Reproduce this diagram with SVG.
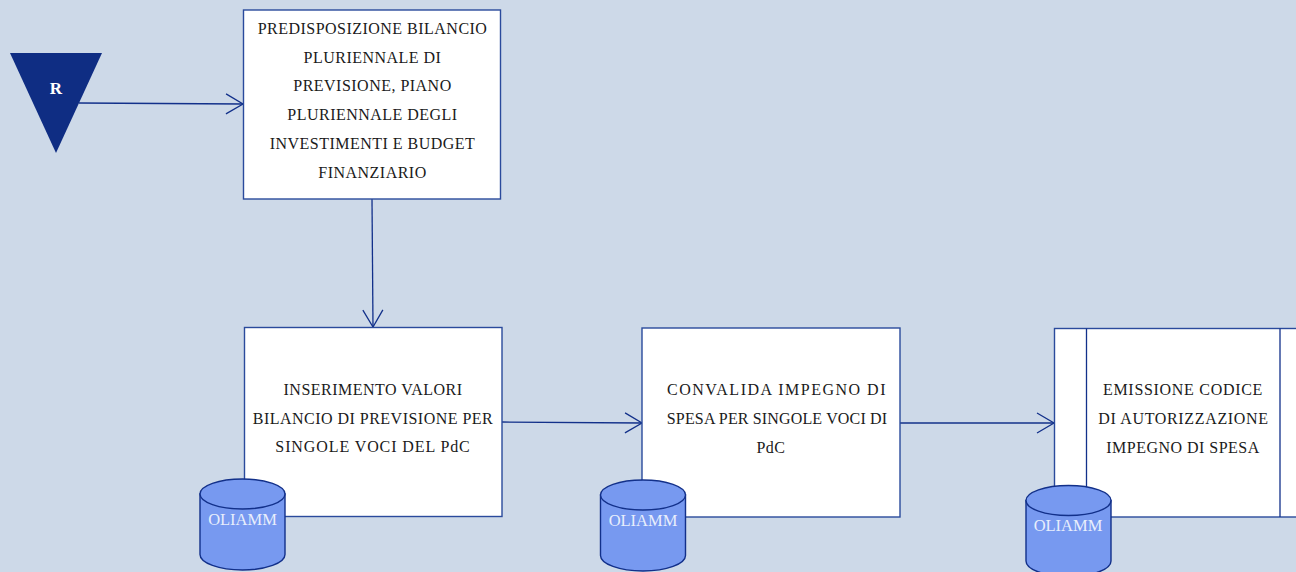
<svg xmlns="http://www.w3.org/2000/svg" width="1296" height="572" viewBox="0 0 1296 572">
<style>
.bg{fill:#cdd9e8}
.box{fill:#fff;stroke:#2a4a9c;stroke-width:1.4}
.ln{fill:none;stroke:#12308a;stroke-width:1.3}
.cyl{fill:#7799f0;stroke:#12308a;stroke-width:1.4}
text{font-family:"Liberation Serif",serif;text-anchor:middle}
.t{font-size:16px;fill:#1a1a1a;letter-spacing:.48px}
.o{font-size:16.5px;fill:#e8eefc}
.r{font-size:17px;font-weight:bold;fill:#fff}
</style>
<defs>
<marker id="arr" markerUnits="userSpaceOnUse" markerWidth="20" markerHeight="24" refX="18" refY="11" orient="auto"><path d="M1 1 L18 11 L1 21" fill="none" stroke="#12308a" stroke-width="1.3"/></marker>
<g id="db"><path class="cyl" d="M0 15.500V76C0 84.500 19 91.500 42.500 91.500S85 84.500 85 76V15.500Z"/><ellipse class="cyl" cx="42.500" cy="15.500" rx="42.500" ry="15"/></g>
</defs>
<rect class="bg" width="1296" height="572"/>
<g id="connectors">
<path class="ln" marker-end="url(#arr)" d="M79 103 L243 104"/>
<path class="ln" marker-end="url(#arr)" d="M372 199 L373 327"/>
<path class="ln" marker-end="url(#arr)" d="M502 422 L642 423"/>
<path class="ln" marker-end="url(#arr)" d="M900 423 L1054 423"/>
</g>
<g id="node-r"><path d="M10 53H102L56 153Z" fill="#0f2d83"/><text class="r" x="56" y="94">R</text></g>
<g id="node-predisposizione"><rect class="box" x="243.500" y="10" width="257" height="189"/>
<text class="t" x="372.500" y="33.500">PREDISPOSIZIONE BILANCIO</text>
<text class="t" x="372.500" y="62.500">PLURIENNALE DI</text>
<text class="t" x="372.500" y="90.500">PREVISIONE, PIANO</text>
<text class="t" x="372.500" y="119.500">PLURIENNALE DEGLI</text>
<text class="t" x="372.500" y="148.500">INVESTIMENTI E BUDGET</text>
<text class="t" x="372.500" y="177.500">FINANZIARIO</text></g>
<g id="node-inserimento"><rect class="box" x="244.500" y="327.500" width="257.500" height="189"/>
<text class="t" x="373" y="394.500">INSERIMENTO VALORI</text>
<text class="t" x="373" y="423.500">BILANCIO DI PREVISIONE PER</text>
<text class="t" x="373" y="451.500" style="letter-spacing:.9px">SINGOLE VOCI DEL PdC</text></g>
<g id="node-convalida"><rect class="box" x="642" y="328" width="258" height="189"/>
<text class="t" x="777" y="394.500" style="letter-spacing:1.5px">CONVALIDA IMPEGNO DI</text>
<text class="t" x="777" y="423.500" style="letter-spacing:.15px">SPESA PER SINGOLE VOCI DI</text>
<text class="t" x="771" y="452.500">PdC</text></g>
<g id="node-emissione"><rect class="box" x="1054.500" y="328.500" width="245" height="188.500"/>
<path class="ln" d="M1086.500 328.500V517M1280 328.500V517"/>
<text class="t" x="1183" y="394.500" style="letter-spacing:.7px">EMISSIONE CODICE</text>
<text class="t" x="1183.500" y="423.500" style="letter-spacing:.65px">DI AUTORIZZAZIONE</text>
<text class="t" x="1183" y="452.500">IMPEGNO DI SPESA</text></g>
<g id="db-1"><use href="#db" x="200" y="478.500"/><text class="o" x="242.500" y="524.500">OLIAMM</text></g>
<g id="db-2"><use href="#db" x="600.500" y="479.500"/><text class="o" x="643" y="525.500">OLIAMM</text></g>
<g id="db-3"><use href="#db" x="1026" y="485"/><text class="o" x="1068" y="530.500">OLIAMM</text></g>
</svg>
